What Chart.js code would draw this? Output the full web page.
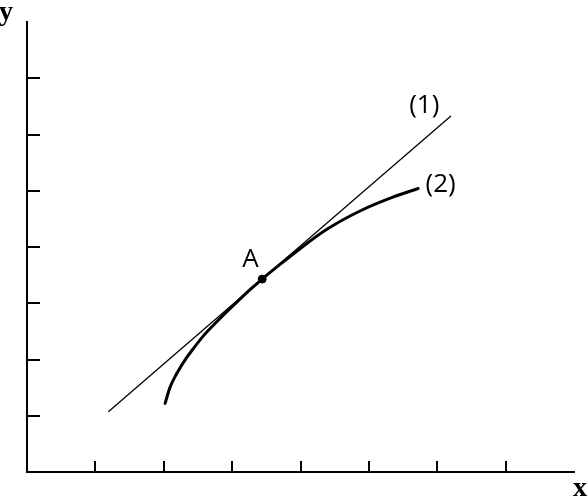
<!DOCTYPE html>
<html>
<head>
<meta charset="utf-8">
<script src="https://cdn.jsdelivr.net/npm/chart.js@4/dist/chart.umd.min.js"></script>
<style>
  html, body { margin: 0; padding: 0; background: #fff; }
  canvas { display: block; }
</style>
</head>
<body>
<canvas id="chart" width="588" height="502"></canvas>
<script>
// axis ticks (unlabelled marks)
const xTicks = [1, 2, 3, 4, 5, 6, 7];
const yTicks = [1, 2, 3, 4, 5, 6, 7];

// (1) straight tangent line
const lineX = [1.19, 6.20];
const lineY = [1.07, 6.33];

// (2) curve
const curveX = [2.02, 2.09, 2.19, 2.31, 2.43, 2.58, 2.75, 2.93, 3.12, 3.27, 3.44, 3.70, 3.95, 4.38, 4.87, 5.36, 5.72];
const curveY = [1.22, 1.50, 1.75, 1.99, 2.19, 2.42, 2.64, 2.86, 3.08, 3.25, 3.43, 3.69, 3.93, 4.31, 4.64, 4.89, 5.04];

// tangent point
const pointX = [3.44];
const pointY = [3.43];

const labelFont = '26px "Open Sans"';
const axisFont = 'bold 28px "Liberation Serif"';

function toPoints(xs, ys) {
  return xs.map((x, i) => ({ x, y: ys[i] }));
}

const tickMarks = {
  id: 'tickMarks',
  afterDatasetsDraw(chart) {
    const { ctx, chartArea, scales } = chart;
    ctx.save();
    ctx.strokeStyle = '#000';
    ctx.lineWidth = 2;
    ctx.beginPath();
    xTicks.forEach(v => {
      const px = Math.round(scales.x.getPixelForValue(v));
      ctx.moveTo(px, chartArea.bottom);
      ctx.lineTo(px, chartArea.bottom - 11);
    });
    yTicks.forEach(v => {
      const py = Math.round(scales.y.getPixelForValue(v));
      ctx.moveTo(chartArea.left, py);
      ctx.lineTo(chartArea.left + 13, py);
    });
    ctx.stroke();

    // curve labels
    ctx.fillStyle = '#000';
    ctx.font = labelFont;
    ctx.textAlign = 'center';
    ctx.textBaseline = 'middle';
    ctx.fillText('(1)', scales.x.getPixelForValue(5.81), scales.y.getPixelForValue(6.51));
    ctx.fillText('(2)', scales.x.getPixelForValue(6.05), scales.y.getPixelForValue(5.11));
    ctx.fillText('A', scales.x.getPixelForValue(3.27), scales.y.getPixelForValue(3.77));

    // axis names
    ctx.font = axisFont;
    ctx.textAlign = 'left';
    ctx.textBaseline = 'alphabetic';
    ctx.fillText('y', -1, 20);
    ctx.fillText('x', chartArea.right - 1, 496);
    ctx.restore();
  },
};

new Chart(document.getElementById('chart'), {
  type: 'line',
  data: {
    datasets: [
      {
        type: 'scatter',
        data: toPoints(pointX, pointY),
        backgroundColor: '#000',
        borderColor: '#000',
        pointRadius: 4,
        order: 0,
      },
      {
        data: toPoints(curveX, curveY),
        borderColor: '#000',
        borderWidth: 3,
        pointRadius: 0,
        cubicInterpolationMode: 'monotone',
        borderCapStyle: 'round',
        fill: false,
        order: 1,
      },
      {
        data: toPoints(lineX, lineY),
        borderColor: '#000',
        borderWidth: 1.3,
        pointRadius: 0,
        tension: 0,
        fill: false,
        order: 2,
      },
    ],
  },
  options: {
    responsive: false,
    animation: false,
    events: [],
    layout: {
      padding: { left: 27, right: 14, top: 22, bottom: 30 },
    },
    plugins: {
      legend: { display: false },
      tooltip: { enabled: false },
    },
    scales: {
      x: {
        type: 'linear',
        min: 0,
        max: 8,
        grid: { display: false, drawTicks: false },
        ticks: { display: false },
        border: { display: true, color: '#000', width: 2 },
      },
      y: {
        type: 'linear',
        min: 0,
        max: 8,
        grid: { display: false, drawTicks: false },
        ticks: { display: false },
        border: { display: true, color: '#000', width: 2 },
      },
    },
  },
  plugins: [tickMarks],
});
</script>
</body>
</html>
